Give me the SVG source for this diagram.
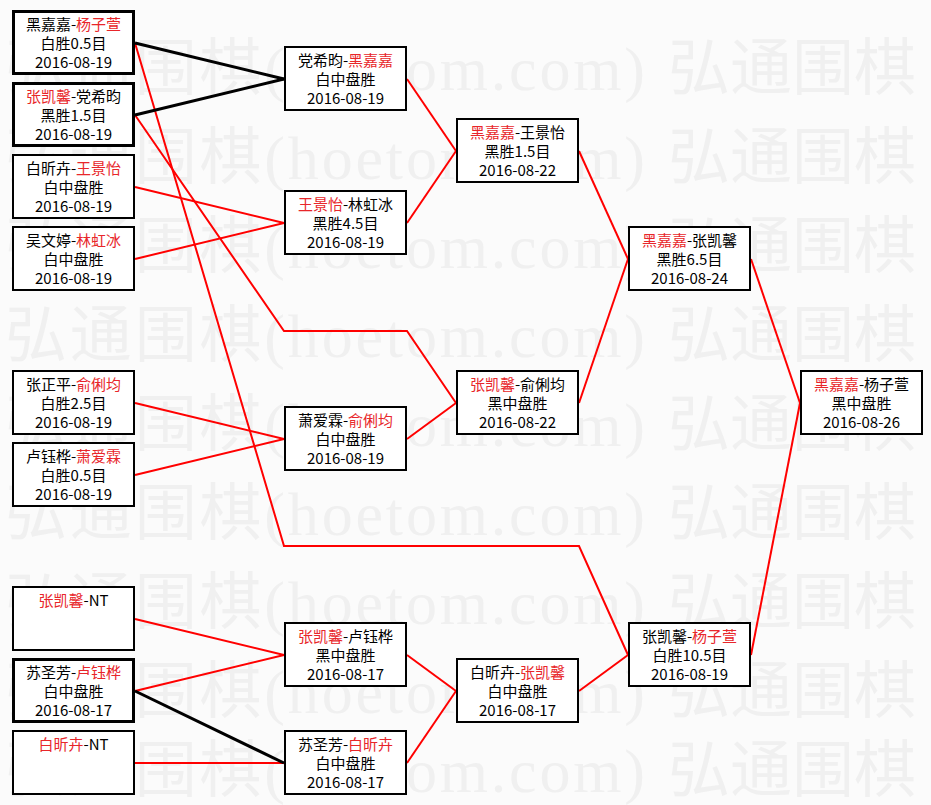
<svg xmlns="http://www.w3.org/2000/svg" width="931" height="805" viewBox="0 0 931 805">
<style>
.bg{fill:#fbfbfb}
.wm{font-family:"Liberation Serif","Noto Sans CJK SC",serif;font-size:62px;fill:#f0f0f0}
.box{fill:#ffffff;stroke:#000000;stroke-width:2}
.thick{fill:#ffffff;stroke:#000000;stroke-width:3}
.t{font-family:"Noto Sans CJK SC",sans-serif;font-size:15px;fill:#000000;text-anchor:middle}
.r{fill:#e8262a}
.lr{fill:none;stroke:#ff0000;stroke-width:2;stroke-linejoin:miter}
.lb{fill:none;stroke:#000000;stroke-width:3}
</style>
<rect class="bg" x="0" y="0" width="931" height="805"/>
<g id="watermark">
<text class="wm" x="5" y="90" textLength="640">弘通围棋(hoetom.com)</text><text class="wm" x="668" y="90">弘通围棋</text>
<text class="wm" x="5" y="179" textLength="640">弘通围棋(hoetom.com)</text><text class="wm" x="668" y="179">弘通围棋</text>
<text class="wm" x="5" y="268" textLength="640">弘通围棋(hoetom.com)</text><text class="wm" x="668" y="268">弘通围棋</text>
<text class="wm" x="5" y="357" textLength="640">弘通围棋(hoetom.com)</text><text class="wm" x="668" y="357">弘通围棋</text>
<text class="wm" x="5" y="446" textLength="640">弘通围棋(hoetom.com)</text><text class="wm" x="668" y="446">弘通围棋</text>
<text class="wm" x="5" y="535" textLength="640">弘通围棋(hoetom.com)</text><text class="wm" x="668" y="535">弘通围棋</text>
<text class="wm" x="5" y="624" textLength="640">弘通围棋(hoetom.com)</text><text class="wm" x="668" y="624">弘通围棋</text>
<text class="wm" x="5" y="713" textLength="640">弘通围棋(hoetom.com)</text><text class="wm" x="668" y="713">弘通围棋</text>
<text class="wm" x="5" y="792" textLength="640">弘通围棋(hoetom.com)</text><text class="wm" x="668" y="792">弘通围棋</text>
</g>
<g id="connectors">
<path class="lr" d="M135,43 L284,546 L579,546 L628,655"/>
<path class="lr" d="M135,115 L284,331 L407,331 L456,403"/>
<path class="lr" d="M135,187 L284,223"/>
<path class="lr" d="M135,259 L284,223"/>
<path class="lr" d="M135,403 L284,439"/>
<path class="lr" d="M135,475 L284,439"/>
<path class="lr" d="M135,619 L284,655"/>
<path class="lr" d="M135,691 L284,655"/>
<path class="lr" d="M135,763 L284,763"/>
<path class="lr" d="M407,79 L456,151"/>
<path class="lr" d="M407,223 L456,151"/>
<path class="lr" d="M407,439 L456,403"/>
<path class="lr" d="M407,655 L456,691"/>
<path class="lr" d="M407,763 L456,691"/>
<path class="lr" d="M579,151 L628,259"/>
<path class="lr" d="M579,403 L628,259"/>
<path class="lr" d="M579,691 L628,655"/>
<path class="lr" d="M751,259 L800,403"/>
<path class="lr" d="M751,655 L800,403"/>
<path class="lb" d="M135,43 L284,79"/>
<path class="lb" d="M135,115 L284,79"/>
<path class="lb" d="M135,691 L284,763"/>
</g>
<g id="n1" transform="translate(12,10)"><rect class="thick" x="1.5" y="1.5" width="120" height="62"/>
<text class="t" x="61.5" y="20">黑嘉嘉-<tspan class="r">杨子萱</tspan></text><text class="t" x="61.5" y="39">白胜0.5目</text><text class="t" x="61.5" y="58">2016-08-19</text></g>
<g id="n2" transform="translate(12,82)"><rect class="thick" x="1.5" y="1.5" width="120" height="62"/>
<text class="t" x="61.5" y="20"><tspan class="r">张凯馨</tspan>-党希昀</text><text class="t" x="61.5" y="39">黑胜1.5目</text><text class="t" x="61.5" y="58">2016-08-19</text></g>
<g id="n3" transform="translate(12,154)"><rect class="box" x="1" y="1" width="121" height="63"/>
<text class="t" x="61.5" y="20">白昕卉-<tspan class="r">王景怡</tspan></text><text class="t" x="61.5" y="39">白中盘胜</text><text class="t" x="61.5" y="58">2016-08-19</text></g>
<g id="n4" transform="translate(12,226)"><rect class="box" x="1" y="1" width="121" height="63"/>
<text class="t" x="61.5" y="20">吴文婷-<tspan class="r">林虹冰</tspan></text><text class="t" x="61.5" y="39">白中盘胜</text><text class="t" x="61.5" y="58">2016-08-19</text></g>
<g id="n5" transform="translate(12,370)"><rect class="box" x="1" y="1" width="121" height="63"/>
<text class="t" x="61.5" y="20">张正平-<tspan class="r">俞俐均</tspan></text><text class="t" x="61.5" y="39">白胜2.5目</text><text class="t" x="61.5" y="58">2016-08-19</text></g>
<g id="n6" transform="translate(12,442)"><rect class="box" x="1" y="1" width="121" height="63"/>
<text class="t" x="61.5" y="20">卢钰桦-<tspan class="r">萧爱霖</tspan></text><text class="t" x="61.5" y="39">白胜0.5目</text><text class="t" x="61.5" y="58">2016-08-19</text></g>
<g id="n7" transform="translate(12,586)"><rect class="box" x="1" y="1" width="121" height="63"/>
<text class="t" x="61.5" y="20"><tspan class="r">张凯馨</tspan>-NT</text></g>
<g id="n8" transform="translate(12,658)"><rect class="thick" x="1.5" y="1.5" width="120" height="62"/>
<text class="t" x="61.5" y="20">苏圣芳-<tspan class="r">卢钰桦</tspan></text><text class="t" x="61.5" y="39">白中盘胜</text><text class="t" x="61.5" y="58">2016-08-17</text></g>
<g id="n9" transform="translate(12,730)"><rect class="box" x="1" y="1" width="121" height="63"/>
<text class="t" x="61.5" y="20"><tspan class="r">白昕卉</tspan>-NT</text></g>
<g id="r2a" transform="translate(284,46)"><rect class="box" x="1" y="1" width="121" height="63"/>
<text class="t" x="61.5" y="20">党希昀-<tspan class="r">黑嘉嘉</tspan></text><text class="t" x="61.5" y="39">白中盘胜</text><text class="t" x="61.5" y="58">2016-08-19</text></g>
<g id="r2b" transform="translate(284,190)"><rect class="box" x="1" y="1" width="121" height="63"/>
<text class="t" x="61.5" y="20"><tspan class="r">王景怡</tspan>-林虹冰</text><text class="t" x="61.5" y="39">黑胜4.5目</text><text class="t" x="61.5" y="58">2016-08-19</text></g>
<g id="r2c" transform="translate(284,406)"><rect class="box" x="1" y="1" width="121" height="63"/>
<text class="t" x="61.5" y="20">萧爱霖-<tspan class="r">俞俐均</tspan></text><text class="t" x="61.5" y="39">白中盘胜</text><text class="t" x="61.5" y="58">2016-08-19</text></g>
<g id="r2d" transform="translate(284,622)"><rect class="box" x="1" y="1" width="121" height="63"/>
<text class="t" x="61.5" y="20"><tspan class="r">张凯馨</tspan>-卢钰桦</text><text class="t" x="61.5" y="39">黑中盘胜</text><text class="t" x="61.5" y="58">2016-08-17</text></g>
<g id="r2e" transform="translate(284,730)"><rect class="box" x="1" y="1" width="121" height="63"/>
<text class="t" x="61.5" y="20">苏圣芳-<tspan class="r">白昕卉</tspan></text><text class="t" x="61.5" y="39">白中盘胜</text><text class="t" x="61.5" y="58">2016-08-17</text></g>
<g id="r3a" transform="translate(456,118)"><rect class="box" x="1" y="1" width="121" height="63"/>
<text class="t" x="61.5" y="20"><tspan class="r">黑嘉嘉</tspan>-王景怡</text><text class="t" x="61.5" y="39">黑胜1.5目</text><text class="t" x="61.5" y="58">2016-08-22</text></g>
<g id="r3b" transform="translate(456,370)"><rect class="box" x="1" y="1" width="121" height="63"/>
<text class="t" x="61.5" y="20"><tspan class="r">张凯馨</tspan>-俞俐均</text><text class="t" x="61.5" y="39">黑中盘胜</text><text class="t" x="61.5" y="58">2016-08-22</text></g>
<g id="r3c" transform="translate(456,658)"><rect class="box" x="1" y="1" width="121" height="63"/>
<text class="t" x="61.5" y="20">白昕卉-<tspan class="r">张凯馨</tspan></text><text class="t" x="61.5" y="39">白中盘胜</text><text class="t" x="61.5" y="58">2016-08-17</text></g>
<g id="r4a" transform="translate(628,226)"><rect class="box" x="1" y="1" width="121" height="63"/>
<text class="t" x="61.5" y="20"><tspan class="r">黑嘉嘉</tspan>-张凯馨</text><text class="t" x="61.5" y="39">黑胜6.5目</text><text class="t" x="61.5" y="58">2016-08-24</text></g>
<g id="r4b" transform="translate(628,622)"><rect class="box" x="1" y="1" width="121" height="63"/>
<text class="t" x="61.5" y="20">张凯馨-<tspan class="r">杨子萱</tspan></text><text class="t" x="61.5" y="39">白胜10.5目</text><text class="t" x="61.5" y="58">2016-08-19</text></g>
<g id="final" transform="translate(800,370)"><rect class="box" x="1" y="1" width="121" height="63"/>
<text class="t" x="61.5" y="20"><tspan class="r">黑嘉嘉</tspan>-杨子萱</text><text class="t" x="61.5" y="39">黑中盘胜</text><text class="t" x="61.5" y="58">2016-08-26</text></g>
</svg>
